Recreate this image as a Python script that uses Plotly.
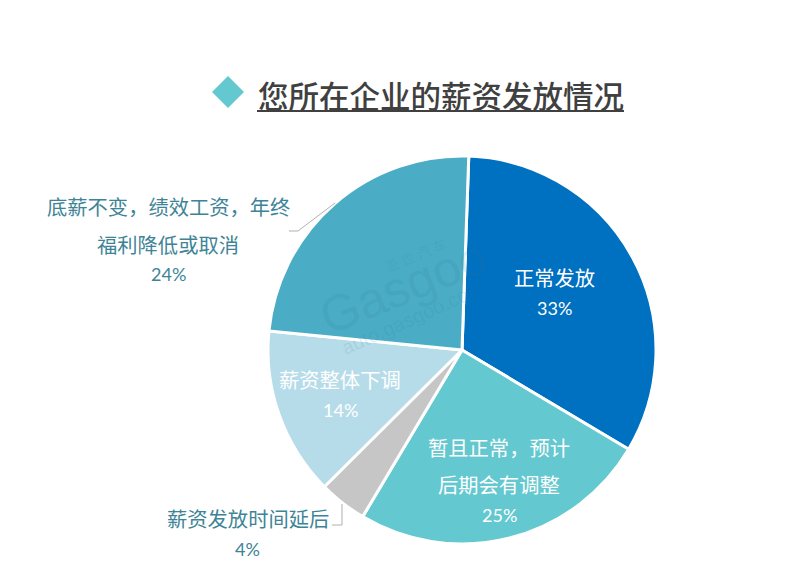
import plotly.graph_objects as go

W, H = 804, 571
OFFSET = 8  # the page body adds an 8 px margin around the figure
COMMA = "\uff0c"
categories = ["正常发放", "暂且正常" + COMMA + "预计后期会有调整", "薪资发放时间延后", "薪资整体下调",
              "底薪不变" + COMMA + "绩效工资" + COMMA + "年终福利降低或取消"]
values = [33, 25, 4, 14, 24]
colors = ["#0070C0", "#63C8CF", "#C6C6C6", "#B6DCE9", "#4BACC6"]
title = "您所在企业的薪资发放情况"

CJK = "'Noto Sans CJK SC', sans-serif"
LATIN = "Lato, sans-serif"
TEAL = "#3E8496"

def px(x): return (x - OFFSET) / W
def py(y): return 1 - (y - OFFSET) / H

fig = go.Figure(go.Pie(
    labels=categories, values=values, sort=False, direction="clockwise", rotation=2,
    marker=dict(colors=colors, line=dict(color="white", width=3)),
    textinfo="none", hoverinfo="label+percent", showlegend=False,
    domain=dict(x=[px(268), px(656)], y=[py(544), py(156)]),
))

# (line of text, centre x, centre y, colour, font, size)
labels = [
    ("正常发放", 554, 277, "white", CJK, 20.3), ("33%", 554, 308, "white", LATIN, 18),
    ("暂且正常" + COMMA + "预计", 499, 447, "white", CJK, 20.3), ("后期会有调整", 499, 484, "white", CJK, 20.3),
    ("25%", 499, 515, "white", LATIN, 18),
    ("薪资发放时间延后", 248, 518, TEAL, CJK, 20.3), ("4%", 248, 549, TEAL, LATIN, 18),
    ("薪资整体下调", 340, 379, "white", CJK, 20.3), ("14%", 340, 410, "white", LATIN, 18),
    ("底薪不变" + COMMA + "绩效工资" + COMMA + "年终", 168, 206, TEAL, CJK, 20.3),
    ("福利降低或取消", 168, 244, TEAL, CJK, 20.3), ("24%", 168, 274, TEAL, LATIN, 18),
]
annotations = [dict(text=t, x=px(x), y=py(y), xref="paper", yref="paper", showarrow=False,
                    xanchor="center", yanchor="middle",
                    font=dict(family=f, size=s, color=c)) for t, x, y, c, f, s in labels]

annotations.append(dict(text=title, x=px(441), y=py(95), xref="paper", yref="paper", showarrow=False,
                        xanchor="center", yanchor="middle",
                        font=dict(family=CJK, size=30.5, color="#404040", weight=500)))

# faint watermark
annotations += [
    dict(text="Gasgoo", x=px(403), y=py(287), xref="paper", yref="paper", showarrow=False, textangle=-22,
         font=dict(family="Liberation Sans", size=50, color="rgba(50,120,150,0.13)")),
    dict(text="auto.gasgoo.com", x=px(412), y=py(318), xref="paper", yref="paper", showarrow=False, textangle=-24,
         font=dict(family="Liberation Sans", size=20, color="rgba(50,120,150,0.12)")),
    dict(text="盖 世 汽 车", x=px(415), y=py(255), xref="paper", yref="paper", showarrow=False, textangle=-22,
         font=dict(family="'Noto Sans CJK SC'", size=14, color="rgba(50,120,150,0.12)")),
]

def seg(pts, color, width):
    path = "M " + " L ".join(f"{px(x):.5f} {py(y):.5f}" for x, y in pts)
    return dict(type="path", path=path, xref="paper", yref="paper", line=dict(color=color, width=width))

shapes = [
    dict(type="path", path="M {} {} L {} {} L {} {} L {} {} Z".format(
        px(212), py(92), px(228), py(76), px(244), py(92), px(228), py(108)),
        xref="paper", yref="paper", fillcolor="#63C8CF", line=dict(width=0)),
    seg([(257, 111), (624, 111)], "#404040", 2),
    seg([(289, 231), (298, 231), (335, 203)], "#B0B0B0", 1),
    seg([(332, 525), (342, 525), (342, 504)], "#B0B0B0", 1),
]

fig.update_layout(width=W, height=H, autosize=False, margin=dict(l=0, r=0, t=0, b=0),
                  paper_bgcolor="white", plot_bgcolor="white",
                  annotations=annotations, shapes=shapes)
fig.write_html("out.html")
